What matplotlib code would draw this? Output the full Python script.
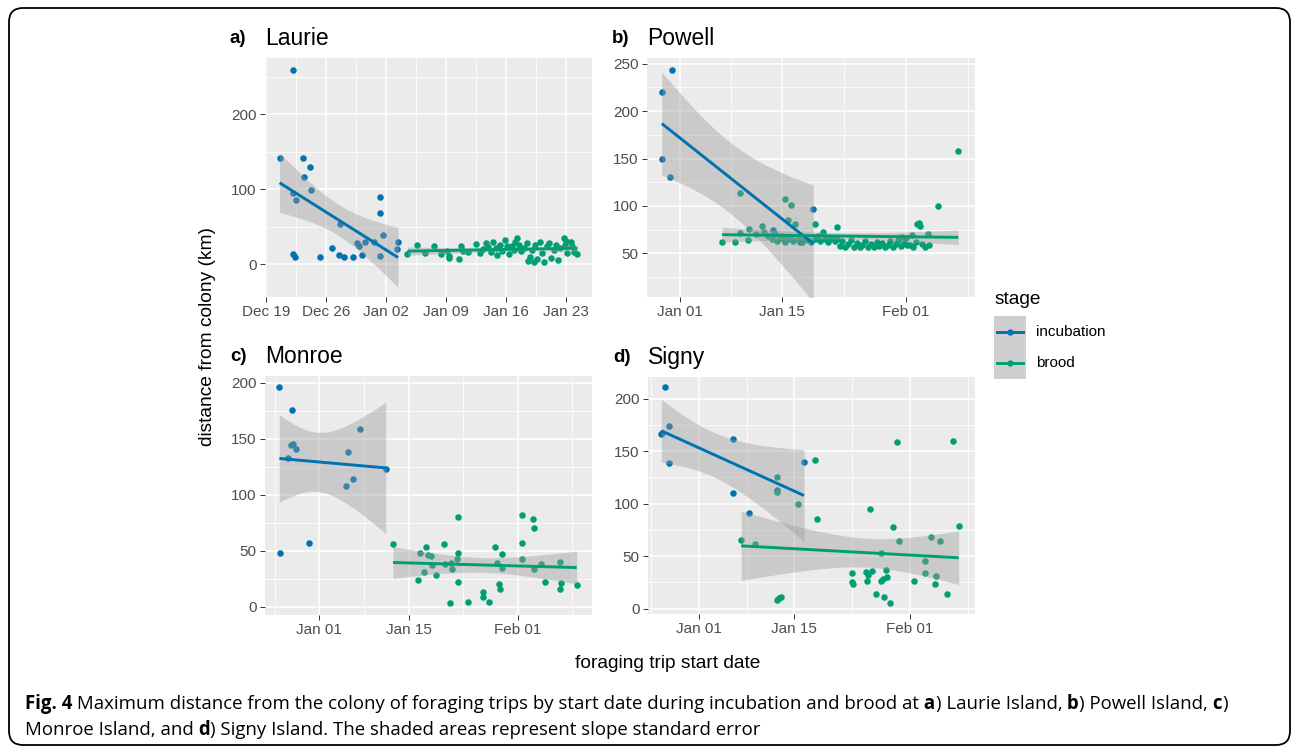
import numpy as np
import matplotlib
matplotlib.use("Agg")
import matplotlib.pyplot as plt
import matplotlib.dates as mdates
from matplotlib.patches import FancyBboxPatch, Rectangle

plt.rcParams['font.family'] = ['Liberation Sans', 'DejaVu Sans']

W, H = 1295, 749
BLUE = '#0072B2'
GREEN = '#009E73'

# all days are counted from 1 January, distances in km
DAY0 = np.datetime64('2017-01-01')

# a) Laurie
laurie_inc_day = [-11.4, -9.8, -9.8, -9.5, -9.85, -9.55, -8.65, -8.5, -7.8, -7.7, -6.7, -5.3, -4.4,
                  -4.45, -3.9, -2.8, -2.4, -2.2, -1.8, -1.5, -0.4, 0.3, 0.3, 0.6, 0.3, 2.4, 2.3]
laurie_inc_km = [142, 259, 95, 85, 13, 9, 141, 116, 129, 99, 10, 22, 54,
                 12, 10, 10, 28, 24, 12, 30, 30, 90, 68, 39, 11, 29, 20]
laurie_brd_day = [3.5, 4.6, 5.5, 6.6, 7.4, 8.1, 8.3, 8.3, 9.5, 9.7, 10.0, 10.5, 11.5, 12.0, 12.3, 12.6,
                  12.9, 13.2, 13.5, 13.8, 13.95, 14.3, 14.5, 14.9, 15.1, 15.3, 15.7, 15.9, 16.0, 16.3,
                  16.5, 16.7, 17.1, 17.4, 17.6, 17.8, 18.0, 18.2, 18.4, 18.6, 18.9, 19.2, 19.4, 19.7,
                  20.0, 20.2, 20.6, 20.8, 21.0, 21.3, 21.7, 21.9, 22.0, 22.1, 22.5, 22.7, 22.9, 23.3]
laurie_brd_km = [14, 25, 15, 24, 13, 17, 11, 8, 7, 24, 18, 16, 27, 15, 20, 28,
                 23, 16, 30, 21, 12, 26, 18, 32, 24, 14, 24, 19, 29, 35,
                 26, 17, 21, 28, 4, 10, 19, 3, 26, 7, 30, 15, 3, 24,
                 28, 8, 19, 26, 6, 21, 35, 26, 31, 15, 30, 24, 16, 14]

# b) Powell
powell_inc_day = [-2.47, -1.05, -2.47, -1.37, 12.8, 14.0, 16.5, 18.3]
powell_inc_km = [220, 243, 150, 131, 75, 66, 62, 97]
powell_brd_day = [5.8, 7.6, 8.3, 8.3, 9.4, 9.5, 10.5, 11.3, 11.6, 12.1, 12.6, 13.0, 13.3, 13.7, 14.0,
                  14.4, 14.5, 14.8, 14.9, 15.2, 15.3, 15.5, 15.8, 16.2, 16.7, 17.1, 17.6, 18.0, 18.5,
                  18.6, 19.0, 19.2, 19.7, 19.9, 20.3, 20.8, 21.3, 21.5, 21.6,
                  22.0, 22.3, 22.7, 23.1, 23.5, 23.9, 24.3, 24.7, 25.0, 25.4, 25.8, 26.2, 26.6, 27.0,
                  27.3, 27.7, 28.1, 28.5, 28.9, 29.3, 29.7, 30.0, 30.4, 30.5, 30.8, 31.0, 31.2, 31.6,
                  31.8, 32.0, 32.4, 32.6, 32.8, 32.9, 33.2, 33.6, 34.0, 34.2, 35.4, 38.2]
powell_brd_km = [61.5, 62.5, 71.5, 114, 64.5, 75.5, 70.5, 78.5, 72.5, 68.5, 65.5, 70.5, 63.5, 66.5, 68.5,
                 61.5, 107, 85, 65.5, 66.5, 101, 63.5, 81, 65.5, 61.5, 66.5, 64.5, 61.5, 65.5,
                 81, 68.5, 63.5, 72.5, 65.5, 62.5, 66.5, 63.5, 78, 65.5,
                 58, 63, 57, 60, 64, 57, 61, 57, 59, 63, 57, 60, 57, 62,
                 58, 61, 57, 59, 63, 57, 60, 64, 58, 67, 61, 66, 59, 59,
                 69, 57, 62, 81, 82, 79, 60, 57, 70, 59, 100, 158]

# c) Monroe
monroe_inc_day = [-6.25, -6.15, -4.3, -4.85, -4.5, -4.06, -3.65, -1.67, 4.1, 4.4, 5.3, 6.35, 10.37]
monroe_inc_km = [196, 48, 176, 133, 144, 145, 141, 57, 108, 138, 114, 159, 123]
monroe_brd_day = [11.5, 15.4, 15.7, 16.3, 16.6, 17.0, 17.4, 17.6, 18.2, 19.5, 19.7, 20.4, 20.5, 20.8,
                  21.6, 21.7, 21.5, 21.7, 23.3, 25.5, 25.6, 26.5, 27.5, 27.8, 28.1, 28.2, 28.6, 28.6,
                  31.6, 31.6, 31.6, 33.35, 33.5, 33.5, 34.6, 35.2, 37.6, 37.7, 37.6, 40.2]
monroe_brd_km = [56, 24, 48, 31, 53, 46, 45, 37, 28, 56, 38, 3, 39, 34,
                 80, 48, 43, 22, 4, 13, 9, 4, 53, 39, 20, 16, 47, 35,
                 82, 57, 43, 78, 70, 34, 38, 22, 40, 21, 16, 19]

# d) Signy
signy_inc_day = [-5.0, -5.54, -5.4, -4.36, -4.36, 5.05, 5.0, 7.4, 11.5, 15.45]
signy_inc_km = [211, 166, 167, 174, 139, 162, 110, 91, 113, 140]
signy_brd_day = [6.2, 8.3, 11.5, 11.5, 11.5, 11.8, 12.1, 14.6, 17.1, 17.35, 22.5, 22.5, 22.6, 24.6,
                 24.7, 24.8, 25.2, 25.4, 26.1, 26.7, 26.8, 27.0, 27.2, 27.5, 27.7, 28.1, 28.6, 29.1,
                 29.4, 31.7, 33.2, 33.2, 34.2, 34.7, 34.9, 35.4, 36.5, 37.3, 38.2]
signy_brd_km = [65.5, 62, 125, 111, 8.5, 10, 11.5, 100, 142, 85, 34, 25, 23, 35,
                26, 32, 95, 36, 14, 53, 26, 28, 11, 37, 30, 5, 78, 159,
                64, 26, 45, 34, 68, 23, 31, 64, 14, 160, 79]

laurie_ticks = ['2016-12-19', '2016-12-26', '2017-01-02', '2017-01-09', '2017-01-16', '2017-01-23']
late_ticks = ['2017-01-01', '2017-01-15', '2017-02-01']


def t975(df):
    # Cornish-Fisher expansion of the 97.5% t quantile
    z = 1.959964
    g1 = (z**3 + z) / 4
    g2 = (5 * z**5 + 16 * z**3 + 3 * z) / 96
    g3 = (3 * z**7 + 19 * z**5 + 17 * z**3 - 15 * z) / 384
    return z + g1 / df + g2 / df**2 + g3 / df**3


def lm_band(x, y, n=80):
    # same as ggplot geom_smooth(method="lm")
    x = np.asarray(x, float)
    y = np.asarray(y, float)
    b, a = np.polyfit(x, y, 1)
    xs = np.linspace(x.min(), x.max(), n)
    fit = a + b * xs
    df = len(x) - 2
    s = np.sqrt(np.sum((y - (a + b * x))**2) / df)
    sxx = np.sum((x - x.mean())**2)
    se = s * np.sqrt(1 / len(x) + (xs - x.mean())**2 / sxx)
    t = t975(df)
    return xs, fit, fit - t * se, fit + t * se


def to_num(days):
    return mdates.date2num(DAY0) + np.asarray(days, float)


def px_rect(left, top, right, bottom):
    return [left / W, 1 - bottom / H, (right - left) / W, (bottom - top) / H]


fig = plt.figure(figsize=(W / 100, H / 100), dpi=100)


def panel(box, tag, name, inc, brd, xlim, ylim, xticks, yticks):
    ax = fig.add_axes(px_rect(*box))
    ax.set_facecolor('#EBEBEB')
    for sp in ax.spines.values():
        sp.set_visible(False)

    for (d, km), col in ((inc, BLUE), (brd, GREEN)):
        ax.scatter(to_num(d), km, s=22, color=col, linewidths=0, zorder=3)
    for (d, km), col in ((inc, BLUE), (brd, GREEN)):
        xs, fit, lo, hi = lm_band(d, km)
        ax.fill_between(to_num(xs), lo, hi, color='#999999', alpha=0.4, lw=0, zorder=4)
        ax.plot(to_num(xs), fit, color=col, lw=2.1, zorder=5, solid_capstyle='butt')

    xt = mdates.date2num(np.array(xticks, dtype='datetime64[D]'))
    ax.set_xticks(xt)
    ax.xaxis.set_major_formatter(mdates.DateFormatter('%b %d'))
    ax.set_yticks(yticks)
    ax.set_xticks(np.r_[xt[0] - (xt[1] - xt[0]) / 2, (xt[:-1] + xt[1:]) / 2,
                        xt[-1] + (xt[-1] - xt[-2]) / 2], minor=True)
    step_y = yticks[1] - yticks[0]
    ax.set_yticks(np.r_[yticks[0] - step_y / 2, np.array(yticks) + step_y / 2], minor=True)
    ax.set_xlim(to_num(xlim))
    ax.set_ylim(ylim)
    ax.grid(True, which='major', color='white', lw=1.1, zorder=0)
    ax.grid(True, which='minor', color='white', lw=0.55, zorder=0)
    ax.set_axisbelow(True)
    ax.tick_params(which='major', length=3.4, width=0.7, color='#333333', labelcolor='#4D4D4D',
                   labelsize=11, pad=2.5)
    ax.tick_params(which='minor', length=0)

    left, top = box[0], box[1]
    fig.text((left - 35) / W, 1 - (top - 15) / H, tag, fontsize=13.5, fontweight='bold')
    fig.text(left / W, 1 - (top - 13) / H, name, fontsize=16.5)
    return ax


panel((265, 58, 592, 297), 'a)', 'Laurie',
      (laurie_inc_day, laurie_inc_km), (laurie_brd_day, laurie_brd_km),
      (-13.1, 25.0), (-44, 275), laurie_ticks, [0, 100, 200])
panel((647, 58, 975, 297), 'b)', 'Powell',
      (powell_inc_day, powell_inc_km), (powell_brd_day, powell_brd_km),
      (-4.5, 40.5), (4, 256), late_ticks, [50, 100, 150, 200, 250])
panel((265, 376, 592, 615), 'c)', 'Monroe',
      (monroe_inc_day, monroe_inc_km), (monroe_brd_day, monroe_brd_km),
      (-8.5, 42.6), (-7.4, 206), late_ticks, [0, 50, 100, 150, 200])
panel((648, 377, 975, 614), 'd)', 'Signy',
      (signy_inc_day, signy_inc_km), (signy_brd_day, signy_brd_km),
      (-7.5, 40.6), (-5.1, 220.6), late_ticks, [0, 50, 100, 150, 200])

# axis titles
fig.text(207 / W, 1 - 336 / H, 'distance from colony (km)', rotation=90, fontsize=13.75,
         ha='center', va='center')
fig.text(668 / W, 1 - 664 / H, 'foraging trip start date', fontsize=13.75, ha='center', va='center')

# legend
fig.text(995 / W, 1 - 299 / H, 'stage', fontsize=13.75, va='center')
lax = fig.add_axes(px_rect(994, 316, 1026, 379))
lax.set_xlim(0, 1)
lax.set_ylim(0, 2)
lax.axis('off')
lax.add_patch(Rectangle((0, 0), 1, 2, color='#CFCFCF', zorder=0))
for yk, col, lab in ((1.5, BLUE, 'incubation'), (0.5, GREEN, 'brood')):
    lax.plot([0.1, 0.9], [yk, yk], color=col, lw=2.1, zorder=2)
    lax.plot([0.5], [yk], 'o', color=col, ms=3.5, zorder=3)
    fig.text(1036 / W, 1 - (379 - (yk / 2) * 63) / H, lab, fontsize=11, va='center')

# frame
fig.patches.append(FancyBboxPatch((9, 4), 1281, 737, boxstyle='round,pad=0,rounding_size=14',
                                  transform=None, fill=False, ec='black', lw=1.3))

# caption with bold pieces
cap_lines = [
    [('Fig. 4', 'bold'),
     (' Maximum distance from the colony of foraging trips by start date during incubation and brood at', 'normal'),
     (' a', 'bold'), (') Laurie Island,', 'normal'), (' b', 'bold'), (') Powell Island,', 'normal'),
     (' c', 'bold'), (')', 'normal')],
    [('Monroe Island, and', 'normal'), (' d', 'bold'),
     (') Signy Island. The shaded areas represent slope standard error', 'normal')],
]
renderer = fig.canvas.get_renderer()
for base_y, parts in zip((709, 735), cap_lines):
    x = 25
    for txt, wt in parts:
        t = fig.text(x / W, 1 - base_y / H, txt, fontsize=13.4, fontweight=wt, va='baseline',
                     family=['Open Sans', 'DejaVu Sans'])
        x += t.get_window_extent(renderer).width

fig.savefig('out.png', dpi=100)
